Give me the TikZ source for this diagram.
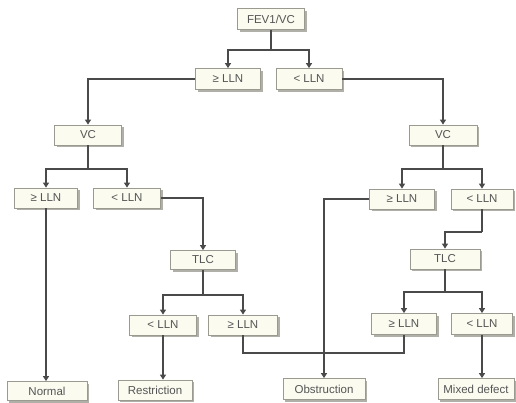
\documentclass[tikz,border=0pt]{standalone}
\usepackage{fontspec}
\setmainfont{Liberation Sans}
\usetikzlibrary{arrows.meta,shadows}
\definecolor{boxfill}{HTML}{FBFBF0}
\definecolor{boxline}{HTML}{9A9A90}
\definecolor{shadowc}{HTML}{B0B0A8}
\definecolor{txt}{HTML}{555555}
\definecolor{linec}{HTML}{4A4A4A}
\tikzset{
  box/.style={draw=boxline, fill=boxfill, line width=0.8pt, minimum height=21pt, inner sep=0pt,
    text=txt, font=\fontsize{11.5}{13}\selectfont,
    drop shadow={shadow xshift=2pt, shadow yshift=-2pt, fill=shadowc, opacity=1}},
  conn/.style={line width=1.3pt, draw=linec},
  arr/.style={conn, -{Triangle[length=5pt,width=6pt]}}
}
\begin{document}
\begin{tikzpicture}[x=1pt,y=1pt]
\useasboundingbox (0,0) rectangle (516,-402);
\fill[white] (0,0) rectangle (516,-402);
% nodes
\node[box, minimum width=67pt] (fev) at (271,-19) {FEV1/VC};
\node[box, minimum width=65pt] (ge1) at (228,-79) {≥ LLN};
\node[box, minimum width=66pt] (lt1) at (309,-79) {< LLN};
\node[box, minimum width=67pt, minimum height=20pt] (vcl) at (88,-135) {VC};
\node[box, minimum width=63pt, minimum height=20pt] (gel2) at (46,-198) {≥ LLN};
\node[box, minimum width=67pt, minimum height=20pt] (ltl2) at (127,-198) {< LLN};
\node[box, minimum width=65pt, minimum height=19pt] (tlcl) at (203,-260) {TLC};
\node[box, minimum width=67pt, minimum height=20pt] (ltl3) at (163,-325) {< LLN};
\node[box, minimum width=69pt, minimum height=20pt] (gel3) at (243,-325) {≥ LLN};
\node[box, minimum width=74pt, minimum height=20pt] (restr) at (155,-390) {Restriction};
\node[box, minimum width=80pt, minimum height=19pt] (normal) at (47,-391) {Normal};
\node[box, minimum width=82pt, minimum height=21pt] (obs) at (324,-389) {Obstruction};
\node[box, minimum width=68pt, minimum height=20pt] (vcr) at (443,-135) {VC};
\node[box, minimum width=65pt, minimum height=20pt] (ger2) at (402,-199) {≥ LLN};
\node[box, minimum width=62pt, minimum height=20pt] (ltr2) at (482,-199) {< LLN};
\node[box, minimum width=70pt, minimum height=20pt] (tlcr) at (445,-259) {TLC};
\node[box, minimum width=65pt, minimum height=21pt] (ger3) at (404,-324) {≥ LLN};
\node[box, minimum width=61pt, minimum height=21pt] (ltr3) at (482,-324) {< LLN};
\node[box, minimum width=76pt, minimum height=21pt] (mixed) at (476,-389) {Mixed defect};
% junctions
\coordinate (j1) at (271,-50);
\coordinate (j2) at (88,-169);
\coordinate (j3) at (203,-295);
\coordinate (j4) at (443,-169);
\coordinate (j5) at (445,-292);
\coordinate (k) at (482,-232);
\coordinate (m) at (324,-353);
% connectors
\draw[conn] (fev) -- (j1);
\draw[arr] (j1) -| (ge1);
\draw[arr] (j1) -| (lt1);
\draw[arr] (ge1) -| (vcl);
\draw[conn] (vcl) -- (j2);
\draw[arr] (j2) -| (gel2);
\draw[arr] (j2) -| (ltl2);
\draw[arr] (ltl2) -| (tlcl);
\draw[conn] (tlcl) -- (j3);
\draw[arr] (j3) -| (ltl3);
\draw[arr] (j3) -| (gel3);
\draw[arr] (ltl3.south) -- (ltl3.south |- restr.north);
\draw[arr] (gel2.south) -- (gel2.south |- normal.north);
\draw[conn] (gel3.south) |- (m);
\draw[conn] (ger3.south) |- (m);
\draw[arr] (ger2) -| (obs);
\draw[arr] (lt1) -| (vcr);
\draw[conn] (vcr) -- (j4);
\draw[arr] (j4) -| (ger2);
\draw[arr] (j4) -| (ltr2);
\draw[conn] (ltr2.south) -- (k);
\draw[arr] (k) -| (tlcr);
\draw[conn] (tlcr) -- (j5);
\draw[arr] (j5) -| (ger3);
\draw[arr] (j5) -| (ltr3);
\draw[arr] (ltr3.south) -- (ltr3.south |- mixed.north);
\end{tikzpicture}
\end{document}
